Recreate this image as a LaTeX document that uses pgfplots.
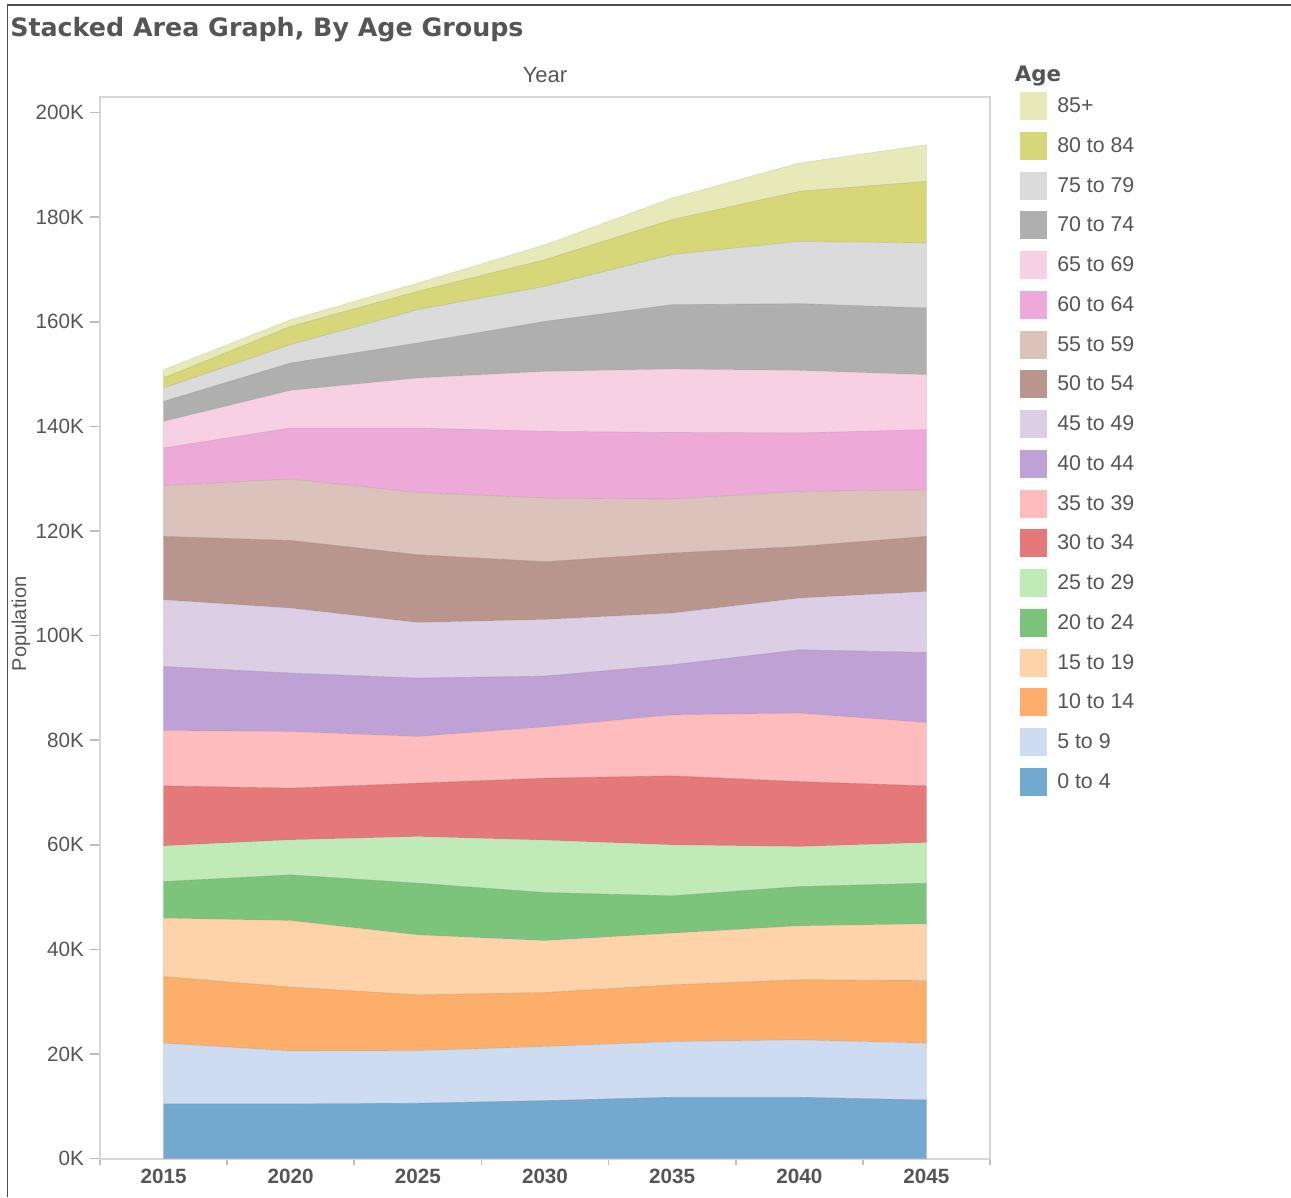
\documentclass[border=0pt]{standalone}
\usepackage{pgfplots}
\pgfplotsset{compat=1.18}
\usepackage{pgfplotstable}
\usepackage{fontspec}
\setmainfont{Liberation Sans}
\newfontfamily\titlefont{DejaVu Sans}

\definecolor{txt}{RGB}{85,85,85}
\definecolor{axgray}{RGB}{214,214,214}
\definecolor{tickgray}{RGB}{190,190,190}
\definecolor{g0}{RGB}{116,169,207}
\definecolor{g5}{RGB}{205,220,240}
\definecolor{g10}{RGB}{253,174,106}
\definecolor{g15}{RGB}{255,211,170}
\definecolor{g20}{RGB}{124,195,124}
\definecolor{g25}{RGB}{192,235,183}
\definecolor{g30}{RGB}{229,120,120}
\definecolor{g35}{RGB}{255,188,188}
\definecolor{g40}{RGB}{190,161,213}
\definecolor{g45}{RGB}{219,206,229}
\definecolor{g50}{RGB}{184,149,141}
\definecolor{g55}{RGB}{219,195,188}
\definecolor{g60}{RGB}{237,170,216}
\definecolor{g65}{RGB}{248,208,227}
\definecolor{g70}{RGB}{175,175,175}
\definecolor{g75}{RGB}{219,219,219}
\definecolor{g80}{RGB}{214,215,120}
\definecolor{g85}{RGB}{232,233,185}

% population in thousands, by age group
\pgfplotstableread{
year g0 g5 g10 g15 g20 g25 g30 g35 g40 g45 g50 g55 g60 g65 g70 g75 g80 g85
2015 10.43 11.61 12.74 11.17 7.00 6.83 11.48 10.58 12.24 12.76 12.11 9.70 7.21 5.09 3.82 2.57 1.91 1.59
2020 10.43 10.13 12.19 12.74 8.74 6.70 9.89 10.83 11.17 12.43 12.93 11.75 9.75 7.20 5.24 3.50 3.50 1.28
2025 10.56 10.06 10.66 11.47 9.89 8.92 10.21 8.92 11.17 10.64 12.95 11.91 12.32 9.57 6.70 6.36 3.51 1.60
2030 11.06 10.33 10.33 9.94 9.19 10.02 11.86 9.81 9.70 10.83 11.04 12.18 12.74 11.48 9.57 6.69 5.11 2.87
2035 11.71 10.63 10.85 9.89 7.14 9.75 13.20 11.67 9.56 9.89 11.48 10.33 12.74 12.13 12.30 9.57 6.69 4.15
2040 11.71 10.96 11.48 10.33 7.51 7.66 12.43 13.08 12.11 9.89 9.87 10.53 11.17 11.97 12.76 11.92 9.56 5.44
2045 11.19 10.85 11.97 10.85 7.78 7.77 10.85 12.11 13.39 11.67 10.52 8.93 11.48 10.52 12.76 12.43 11.79 7.02
}\popdata

\newcommand\agearea[2]{%
  \addplot[fill=#1, draw=#1!75!black, draw opacity=0.3, line width=0.5pt]
    table[x=year,y=#1]{\popdata} \closedcycle;
  \addlegendentry{#2}}

\begin{document}
\begin{tikzpicture}
\path[use as bounding box] (0,0) rectangle (968.25pt,-897.75pt);
\draw[line width=1.1pt, color=black!70] (5.6pt,-897.75pt) -- (5.6pt,-3.6pt) -- (968.25pt,-3.6pt);
\node[anchor=base west, inner sep=0pt, text=txt,
      font=\titlefont\bfseries\fontsize{19}{22}\selectfont] at (7.5pt,-27pt)
      {Stacked Area Graph, By Age Groups};
\node[anchor=base west, inner sep=0pt, text=txt,
      font=\titlefont\bfseries\fontsize{16}{19}\selectfont] at (761pt,-61.3pt) {Age};
\begin{axis}[
  at={(75pt,-72.75pt)}, anchor=north west,
  scale only axis, width=667.5pt, height=796.5pt,
  xmin=2012.5, xmax=2047.5, ymin=-0.1, ymax=203,
  stack plots=y,
  axis line style={axgray, line width=1.2pt},
  tick align=outside,
  xtick pos=lower, ytick pos=left,
  xtick={2015,2020,...,2045},
  minor xtick={2012.5,2017.5,...,2047.5},
  major x tick style={draw=none},
  minor x tick style={tickgray, line width=1.2pt},
  major y tick style={tickgray, line width=1.2pt},
  major tick length=7.5pt, minor tick length=4.5pt,
  ytick={0,20,...,200},
  yticklabel={\pgfmathprintnumber{\tick}K},
  /pgf/number format/assume math mode=true,
  x tick label style={/pgf/number format/1000 sep={}, font=\bfseries\fontsize{15.5}{18}\selectfont, text=txt, inner sep=0pt, yshift=0pt},
  y tick label style={font=\fontsize{15.5}{18}\selectfont, text=txt, xshift=-1pt},
  xlabel={Year},
  xlabel style={at={(axis description cs:0.5,1.0132)}, anchor=base, font=\fontsize{16.5}{19}\selectfont, text=txt, inner sep=0pt},
  ylabel={Population},
  ylabel style={at={(axis description cs:-0.0888,0.5038)}, anchor=center, font=\fontsize{15}{18}\selectfont, text=txt, inner sep=0pt},
  legend style={at={(1.0337,1.0047)}, anchor=north west, draw=none, fill=none,
    inner sep=0pt, row sep=8.8pt, column sep=7.5pt,
    font=\fontsize{16}{19}\selectfont, text=txt, nodes={inner sep=0pt}},
  legend cell align=left,
  reverse legend,
  legend image code/.code={\fill[#1, draw=none] (0pt,-10.5pt) rectangle (20.25pt,10.5pt);},
]
\agearea{g0}{0 to 4}
\agearea{g5}{5 to 9}
\agearea{g10}{10 to 14}
\agearea{g15}{15 to 19}
\agearea{g20}{20 to 24}
\agearea{g25}{25 to 29}
\agearea{g30}{30 to 34}
\agearea{g35}{35 to 39}
\agearea{g40}{40 to 44}
\agearea{g45}{45 to 49}
\agearea{g50}{50 to 54}
\agearea{g55}{55 to 59}
\agearea{g60}{60 to 64}
\agearea{g65}{65 to 69}
\agearea{g70}{70 to 74}
\agearea{g75}{75 to 79}
\agearea{g80}{80 to 84}
\agearea{g85}{85+}
\end{axis}
\end{tikzpicture}
\end{document}
